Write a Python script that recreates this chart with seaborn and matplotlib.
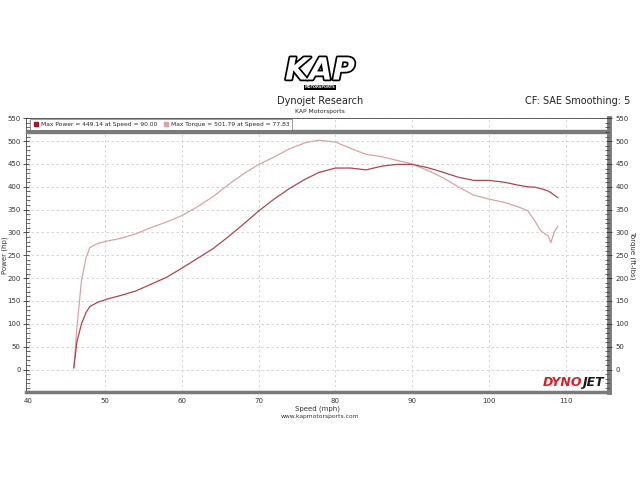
import matplotlib
matplotlib.use("Agg")
import matplotlib.pyplot as plt
import matplotlib.patheffects as pe
from matplotlib.lines import Line2D
from matplotlib.patches import Rectangle
from matplotlib.ticker import MultipleLocator
import pandas as pd
import seaborn as sns

# dyno run
speed = [45.9, 46.3, 46.9, 47.5, 48.0, 49.0, 50.2, 52.0, 54.0, 56.0, 58.0, 60.0,
         62.0, 64.0, 66.0, 68.0, 70.0, 72.0, 74.0, 76.0, 77.8, 80.0, 82.0, 84.0,
         86.0, 88.0, 90.0, 92.0, 94.0, 96.0, 98.0, 100.0, 102.0, 104.0, 105.1,
         106.0, 106.8, 107.7, 108.1, 108.5, 109.0]
power = [3, 60, 100, 125, 138, 147, 154, 162, 172, 187, 202, 222,
         243, 264, 290, 318, 347, 373, 396, 416, 431, 441, 441, 437,
         445, 449, 449, 442, 432, 421, 414, 414, 410, 403, 400,
         399, 396, 391, 387, 382, 376]
torque = [3, 90, 195, 245, 267, 276, 281, 287, 297, 311, 323, 337,
          356, 378, 404, 428, 449, 465, 483, 496, 502, 498, 484, 471,
          466, 458, 450, 436, 420, 400, 382, 373, 366, 355, 347,
          325, 303, 293, 278, 300, 314]

max_power_lbl = "Max Power = 449.14 at Speed = 90.00"
max_torque_lbl = "Max Torque = 501.79 at Speed = 77.83"

POWER_C = "#a9464f"
TORQUE_C = "#d9a3a3"

df = pd.DataFrame({"speed": speed, "power": power, "torque": torque})

sns.set_style("white")
plt.rcParams["font.family"] = ["DejaVu Sans"]

fig = plt.figure(figsize=(6.4, 4.8), dpi=100)
ax = fig.add_axes([0.041, 0.183, 0.911, 0.571])

sns.lineplot(data=df, x="speed", y="torque", ax=ax, color=TORQUE_C, lw=0.9, sort=False)
sns.lineplot(data=df, x="speed", y="power", ax=ax, color=POWER_C, lw=0.9, sort=False)

ylim = (-49.6, 550.4)
ax.set_xlim(39.7, 115.7)
ax.set_ylim(ylim)
ax.xaxis.set_major_locator(MultipleLocator(10))
ax.xaxis.set_minor_locator(MultipleLocator(2))
ax.yaxis.set_major_locator(MultipleLocator(50))
ax.yaxis.set_minor_locator(MultipleLocator(10))
ax.grid(True, which="major", color="#cfcfcf", lw=0.6, ls=(0, (3, 3)))
ax.tick_params(which="major", direction="inout", length=5, width=0.6, labelsize=5,
               colors="#333333", pad=1.5)
ax.tick_params(which="minor", direction="in", length=3, width=0.5, colors="#333333")
ax.set_xlabel("Speed (mph)", fontsize=5, labelpad=1, color="#333333")
ax.set_ylabel("Power (hp)", fontsize=5, color="#333333")
ax.yaxis.set_label_coords(-0.032, 0.5)

for s in ("left", "top"):
    ax.spines[s].set_color("#444444")
    ax.spines[s].set_linewidth(0.6)
ax.spines["bottom"].set_color("#7a7a7a")
ax.spines["bottom"].set_linewidth(2.5)
ax.spines["right"].set_color("#7a7a7a")
ax.spines["right"].set_linewidth(3.5)

# right torque axis
ax2 = ax.twinx()
ax2.set_ylim(ylim)
ax2.yaxis.set_major_locator(MultipleLocator(50))
ax2.yaxis.set_minor_locator(MultipleLocator(10))
ax2.tick_params(which="major", direction="inout", length=5, width=0.6, labelsize=5,
                colors="#333333", pad=2)
ax2.tick_params(which="minor", direction="in", length=3, width=0.5, colors="#333333")
ax2.set_ylabel("Torque (ft-lbs)", fontsize=5, rotation=270, color="#333333", va="center")
ax2.yaxis.set_label_coords(1.040, 0.5)
for s in ax2.spines.values():
    s.set_visible(False)

# gray header bar under the legend
ax.add_patch(Rectangle((0, 0.946), 1, 0.011, transform=ax.transAxes,
                       color="#7a7a7a", zorder=5, clip_on=False))

handles = [Line2D([], [], marker="s", ls="none", color="#a01828", markersize=3),
           Line2D([], [], marker="s", ls="none", color="#e0a0a0", markersize=3)]
leg = ax.legend(handles, [max_power_lbl, max_torque_lbl], ncol=2, loc="upper left",
                bbox_to_anchor=(0.004, 1.0), fontsize=4.3, frameon=True, fancybox=False,
                borderpad=0.5, handletextpad=0.3, columnspacing=1.0, handlelength=1.0,
                borderaxespad=0.2)
leg.get_frame().set_edgecolor("#555555")
leg.get_frame().set_linewidth(0.5)
leg.set_zorder(6)

# headers
fig.text(0.5, 0.789, "Dynojet Research", ha="center", va="center", fontsize=7, color="#222222")
fig.text(0.5, 0.768, "KAP Motorsports", ha="center", va="center", fontsize=4.3, color="#222222")
fig.text(0.985, 0.790, "CF: SAE Smoothing: 5", ha="right", va="center", fontsize=7, color="#222222")
fig.text(0.5, 0.133, "www.kapmotorsports.com", ha="center", va="center", fontsize=4.3, color="#333333")

# KAP logo as text
fig.text(0.5, 0.852, "KAP", ha="center", va="center", fontsize=22, fontweight="bold",
         fontstyle="italic", color="white",
         path_effects=[pe.withStroke(linewidth=2.5, foreground="black")])
fig.text(0.5, 0.818, "MOTORSPORTS", ha="center", va="center", fontsize=2.6, color="white",
         fontweight="bold",
         bbox=dict(boxstyle="square,pad=0.15", fc="black", ec="none"))

# DYNOJET badge
ax.text(0.953, 0.035, "DYNO", transform=ax.transAxes, ha="right", va="center",
        fontsize=9, fontweight="bold", fontstyle="italic", color="#d4202a", zorder=7)
ax.text(0.953, 0.035, "JET", transform=ax.transAxes, ha="left", va="center",
        fontsize=9, fontweight="bold", fontstyle="italic", color="#1a1a1a", zorder=7)

fig.savefig("out.png", dpi=100)
